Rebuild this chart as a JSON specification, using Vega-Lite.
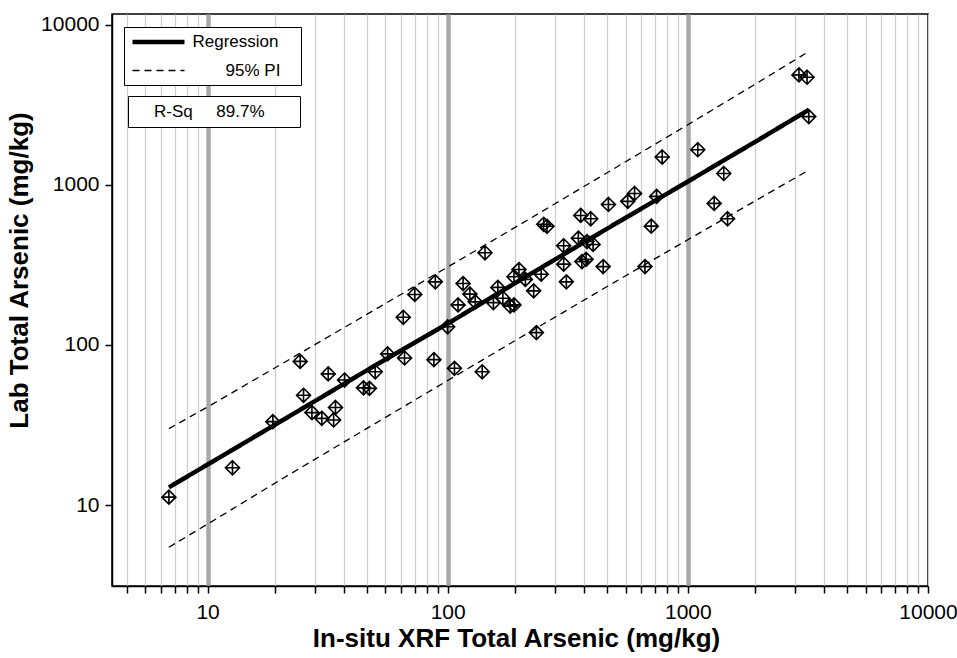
{
  "$schema": "https://vega.github.io/schema/vega-lite/v6.json",
  "width": 816,
  "height": 572,
  "autosize": {"type": "none"},
  "padding": {"left": 112, "top": 14, "right": 29, "bottom": 72},
  "background": "white",
  "config": {
    "font": "Liberation Sans",
    "view": {"stroke": "black", "strokeWidth": 1.5},
    "axis": {
      "labelFont": "Liberation Sans",
      "labelFontSize": 21,
      "labelColor": "black",
      "tickColor": "black",
      "tickWidth": 1.5,
      "tickSize": 7,
      "domainColor": "black",
      "domainWidth": 1.5,
      "titleFont": "Liberation Sans",
      "titleFontSize": 26,
      "titleFontWeight": "bold",
      "titleColor": "black"
    },
    "legend": {
      "strokeColor": "black",
      "fillColor": "white",
      "labelFont": "Liberation Sans",
      "labelFontSize": 17,
      "labelColor": "black",
      "orient": "none"
    }
  },
  "datasets": {
    "points": [
      {"xrf": 6.9, "lab": 11.2}, {"xrf": 12.7, "lab": 17.1}, {"xrf": 18.7, "lab": 33.2},
      {"xrf": 24.3, "lab": 79}, {"xrf": 25.1, "lab": 48.5}, {"xrf": 27.2, "lab": 37.8},
      {"xrf": 29.9, "lab": 34.8}, {"xrf": 31.8, "lab": 66}, {"xrf": 33.5, "lab": 34.0},
      {"xrf": 34.1, "lab": 40.7}, {"xrf": 37.2, "lab": 60.4}, {"xrf": 44.6, "lab": 54},
      {"xrf": 47.2, "lab": 53.6}, {"xrf": 49.9, "lab": 68}, {"xrf": 56.2, "lab": 88},
      {"xrf": 65.3, "lab": 149}, {"xrf": 66.1, "lab": 83}, {"xrf": 72.9, "lab": 207},
      {"xrf": 87.6, "lab": 81}, {"xrf": 88.8, "lab": 248}, {"xrf": 99.9, "lab": 130},
      {"xrf": 106.7, "lab": 71.5}, {"xrf": 110.4, "lab": 178}, {"xrf": 115.9, "lab": 242},
      {"xrf": 123.7, "lab": 208}, {"xrf": 130.2, "lab": 186}, {"xrf": 139.2, "lab": 68},
      {"xrf": 143, "lab": 377}, {"xrf": 155, "lab": 184}, {"xrf": 161.7, "lab": 229},
      {"xrf": 169.7, "lab": 196}, {"xrf": 182, "lab": 175}, {"xrf": 188.8, "lab": 178},
      {"xrf": 188.8, "lab": 267}, {"xrf": 198, "lab": 296}, {"xrf": 210.6, "lab": 257},
      {"xrf": 228, "lab": 218}, {"xrf": 234, "lab": 119.5}, {"xrf": 245, "lab": 277},
      {"xrf": 251, "lab": 568}, {"xrf": 259, "lab": 552}, {"xrf": 304, "lab": 417},
      {"xrf": 304, "lab": 320}, {"xrf": 312, "lab": 248}, {"xrf": 350, "lab": 465},
      {"xrf": 358, "lab": 645}, {"xrf": 362, "lab": 332}, {"xrf": 377, "lab": 343},
      {"xrf": 380, "lab": 443}, {"xrf": 394, "lab": 615}, {"xrf": 403, "lab": 425},
      {"xrf": 444, "lab": 309}, {"xrf": 467, "lab": 755}, {"xrf": 562, "lab": 790},
      {"xrf": 600, "lab": 885}, {"xrf": 663, "lab": 309}, {"xrf": 704, "lab": 553},
      {"xrf": 741, "lab": 848}, {"xrf": 782, "lab": 1495}, {"xrf": 1100, "lab": 1660},
      {"xrf": 1287, "lab": 767}, {"xrf": 1411, "lab": 1180}, {"xrf": 1463, "lab": 615},
      {"xrf": 2901, "lab": 4870}, {"xrf": 3136, "lab": 4710}, {"xrf": 3188, "lab": 2673}
    ],
    "lines": [
      {"series": "Regression", "part": "fit", "xrf": 6.9, "lab": 12.9},
      {"series": "Regression", "part": "fit", "xrf": 10, "lab": 17.9},
      {"series": "Regression", "part": "fit", "xrf": 20, "lab": 33.1},
      {"series": "Regression", "part": "fit", "xrf": 50, "lab": 74.7},
      {"series": "Regression", "part": "fit", "xrf": 100, "lab": 136},
      {"series": "Regression", "part": "fit", "xrf": 200, "lab": 254},
      {"series": "Regression", "part": "fit", "xrf": 500, "lab": 573},
      {"series": "Regression", "part": "fit", "xrf": 1000, "lab": 1050},
      {"series": "Regression", "part": "fit", "xrf": 2000, "lab": 1940},
      {"series": "Regression", "part": "fit", "xrf": 3190, "lab": 2950},
      {"series": "95% PI", "part": "upper", "xrf": 6.9, "lab": 30.0},
      {"series": "95% PI", "part": "upper", "xrf": 10, "lab": 41},
      {"series": "95% PI", "part": "upper", "xrf": 20, "lab": 75},
      {"series": "95% PI", "part": "upper", "xrf": 50, "lab": 167},
      {"series": "95% PI", "part": "upper", "xrf": 100, "lab": 307},
      {"series": "95% PI", "part": "upper", "xrf": 200, "lab": 566},
      {"series": "95% PI", "part": "upper", "xrf": 500, "lab": 1282},
      {"series": "95% PI", "part": "upper", "xrf": 1000, "lab": 2380},
      {"series": "95% PI", "part": "upper", "xrf": 2000, "lab": 4450},
      {"series": "95% PI", "part": "upper", "xrf": 3190, "lab": 6820},
      {"series": "95% PI", "part": "lower", "xrf": 6.9, "lab": 5.45},
      {"series": "95% PI", "part": "lower", "xrf": 10, "lab": 7.6},
      {"series": "95% PI", "part": "lower", "xrf": 20, "lab": 14.3},
      {"series": "95% PI", "part": "lower", "xrf": 50, "lab": 32.4},
      {"series": "95% PI", "part": "lower", "xrf": 100, "lab": 60},
      {"series": "95% PI", "part": "lower", "xrf": 200, "lab": 111},
      {"series": "95% PI", "part": "lower", "xrf": 500, "lab": 249},
      {"series": "95% PI", "part": "lower", "xrf": 1000, "lab": 455},
      {"series": "95% PI", "part": "lower", "xrf": 2000, "lab": 828},
      {"series": "95% PI", "part": "lower", "xrf": 3190, "lab": 1240}
    ]
  },
  "encoding": {
    "x": {
      "field": "xrf",
      "type": "quantitative",
      "title": "In-situ XRF Total Arsenic (mg/kg)",
      "scale": {"type": "log", "domain": [4, 10000], "nice": false, "zero": false},
      "axis": {
        "values": [4.6, 5.5, 6.4, 7.3, 8.2, 9.1, 10, 19, 28, 37, 46, 55, 64, 73, 82, 91, 100, 190, 280, 370, 460, 550, 640, 730, 820, 910, 1000, 1900, 2800, 3700, 4600, 5500, 6400, 7300, 8200, 9100, 10000],
        "labelExpr": "(datum.value == 10 || datum.value == 100 || datum.value == 1000 || datum.value == 10000) ? format(datum.value, 'd') : ''",
        "labelPadding": 8,
        "labelFlush": false,
        "labelOverlap": false,
        "grid": true,
        "gridColor": {"condition": {"test": "datum.value == 10 || datum.value == 100 || datum.value == 1000", "value": "#a8a8a8"}, "value": "#cccccc"},
        "gridWidth": {"condition": {"test": "datum.value == 10 || datum.value == 100 || datum.value == 1000", "value": 4.5}, "value": 1.2},
        "titlePadding": 3,
        "titleX": 404
      }
    },
    "y": {
      "field": "lab",
      "type": "quantitative",
      "title": "Lab Total Arsenic (mg/kg)",
      "scale": {"type": "log", "domain": [3.12, 11700], "nice": false, "zero": false},
      "axis": {
        "values": [10, 100, 1000, 10000],
        "format": "d",
        "grid": false,
        "labelPadding": 6,
        "titlePadding": 8,
        "titleY": 256
      }
    }
  },
  "layer": [
    {
      "data": {"name": "points"},
      "mark": {
        "type": "point",
        "shape": "M0,-1L1,0L0,1L-1,0Z M0,-1L0,1 M-1,0L1,0",
        "filled": false,
        "size": 196,
        "stroke": "black",
        "strokeWidth": 1.6,
        "opacity": 1
      },
      "encoding": {
        "fill": {
          "datum": "R-Sq 89.7%",
          "scale": {"range": ["transparent"]},
          "legend": {
            "title": null,
            "legendX": 16,
            "legendY": 82,
            "padding": 7,
            "symbolSize": 0,
            "symbolOpacity": 0,
            "labelOffset": 2,
            "labelExpr": "'R-Sq\u00a0\u00a0\u00a0\u00a0\u00a089.7%\u00a0\u00a0\u00a0\u00a0\u00a0\u00a0\u200b'"
          }
        }
      }
    },
    {
      "data": {"name": "lines"},
      "mark": {"type": "line", "color": "black"},
      "encoding": {
        "detail": {"field": "part"},
        "strokeDash": {
          "field": "series",
          "type": "nominal",
          "scale": {"domain": ["Regression", "95% PI"], "range": [[1, 0], [7, 5]]},
          "legend": {
            "title": null,
            "legendX": 12,
            "legendY": 13,
            "padding": 6,
            "rowPadding": 10,
            "symbolType": "M-4,0L4,0",
            "symbolSize": 169,
            "symbolOffset": 19.5,
            "symbolStrokeColor": "black",
            "labelOffset": 25,
            "labelExpr": "datum.label == 'Regression' ? 'Regression\u00a0\u00a0\u00a0\u200b' : '\u200b\u00a0\u00a0\u00a0\u00a0\u00a0\u00a0\u00a095% PI\u00a0\u00a0\u00a0\u200b'"
          }
        },
        "strokeWidth": {
          "field": "series",
          "type": "nominal",
          "scale": {"domain": ["Regression", "95% PI"], "range": [4.5, 1.3]},
          "legend": {
            "title": null,
            "legendX": 12,
            "legendY": 13,
            "padding": 6,
            "rowPadding": 10,
            "symbolType": "M-4,0L4,0",
            "symbolSize": 169,
            "symbolOffset": 19.5,
            "symbolStrokeColor": "black",
            "labelOffset": 25,
            "labelExpr": "datum.label == 'Regression' ? 'Regression\u00a0\u00a0\u00a0\u200b' : '\u200b\u00a0\u00a0\u00a0\u00a0\u00a0\u00a0\u00a095% PI\u00a0\u00a0\u00a0\u200b'"
          }
        }
      }
    }
  ]
}
